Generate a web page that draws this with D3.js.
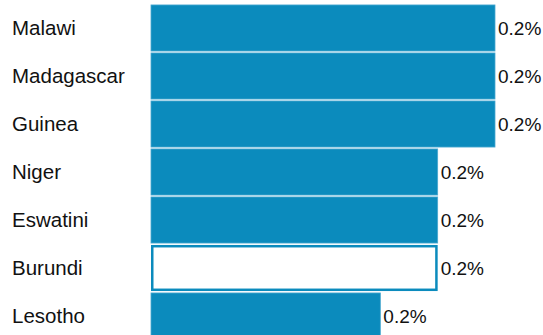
<!DOCTYPE html>
<html><head><meta charset="utf-8">
<script src="https://cdn.jsdelivr.net/npm/d3@7"></script>
<style>body{margin:0;background:#fff;}svg{display:block;}text{font-family:"Liberation Sans",Arial,sans-serif;}</style>
</head><body>
<svg id="c" width="543" height="335"></svg>
<script>
const categories = ["Malawi","Madagascar","Guinea","Niger","Eswatini","Burundi","Lesotho"];
const values = [0.24,0.24,0.24,0.20,0.20,0.20,0.16];
const highlighted = ["Burundi"];

const svg = d3.select("#c");
const x = d3.scaleLinear().domain([0,0.24]).range([151,495]);
const y = d3.scaleBand().domain(categories).range([4,340]).paddingInner(0.04).paddingOuter(0.02);
const fmt = v => d3.format(".1f")(v) + "%";
const blue = "#0b8bbd";

const data = categories.map((c,i)=>({c, v: values[i], hl: highlighted.includes(c)}));

svg.selectAll("rect.bar").data(data).join("rect")
  .attr("class","bar")
  .attr("x", d => d.hl ? x(0)+1.25 : x(0))
  .attr("y", d => d.hl ? y(d.c)+1.25 : y(d.c))
  .attr("width", d => d.hl ? x(d.v)-x(0)-2.5 : x(d.v)-x(0))
  .attr("height", d => d.hl ? y.bandwidth()-2.5 : y.bandwidth())
  .attr("fill", d => d.hl ? "#fff" : blue)
  .attr("stroke", d => d.hl ? blue : "#4aa8d0")
  .attr("stroke-width", d => d.hl ? 2.5 : 0.8);

svg.selectAll("text.cat").data(data).join("text")
  .attr("class","cat")
  .attr("x", 12)
  .attr("y", d => y(d.c) + y.bandwidth()/2)
  .attr("dy","0.35em")
  .attr("font-size", 20.5)
  .attr("fill","#111")
  .text(d => d.c);

svg.selectAll("text.val").data(data).join("text")
  .attr("class","val")
  .attr("x", d => x(d.v) + 3)
  .attr("y", d => y(d.c) + y.bandwidth()/2)
  .attr("dy","0.35em")
  .attr("font-size", 19)
  .attr("fill","#111")
  .text(d => fmt(d.v));
</script>
</body></html>
